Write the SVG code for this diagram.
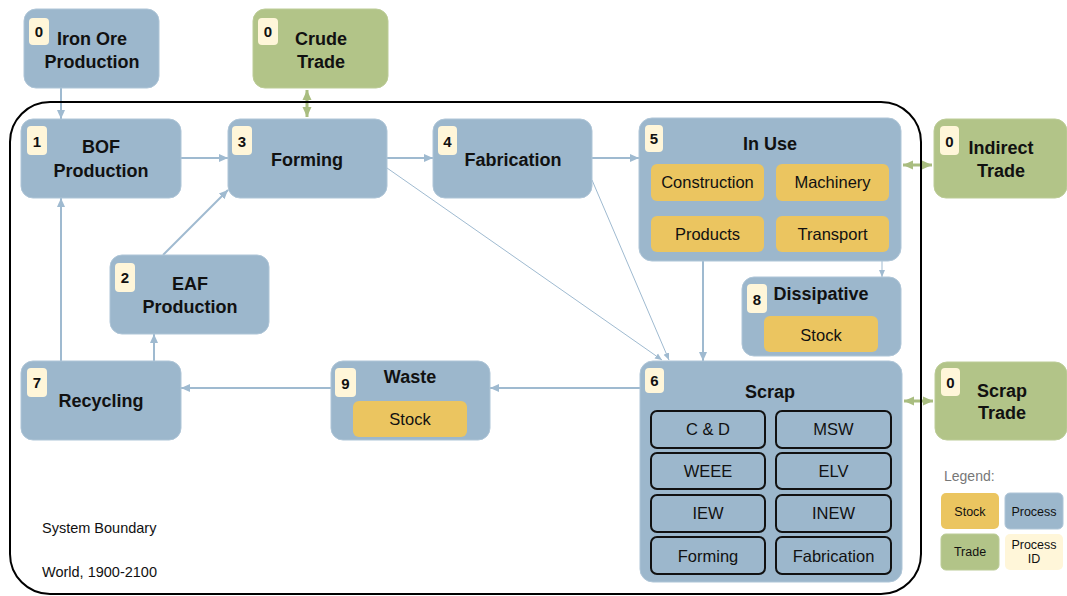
<svg xmlns="http://www.w3.org/2000/svg" width="1067" height="596" viewBox="0 0 1067 596">
  <style>
    text { font-family: "Liberation Sans", Arial, sans-serif; fill: #111; text-anchor: middle; }
    .proc { fill: #9cb7cc; stroke: #aec5d7; stroke-width: 1; }
    .trade { fill: #b2c488; stroke: #bccc97; stroke-width: 1; }
    .stock { fill: #ebc560; }
    .badge { fill: #fff6d9; }
    .sub { fill: none; stroke: #111; stroke-width: 2; }
    .title { font-size: 18px; font-weight: bold; }
    .id { font-size: 15px; font-weight: bold; }
    .item { font-size: 16.5px; }
    .leg { font-size: 12.5px; }
    .note { font-size: 14.5px; text-anchor: start; }
    .flow { stroke: #9fbad0; stroke-width: 2; fill: none; }
    .thin { stroke: #9fbad0; stroke-width: 1; fill: none; }
    .tflow { stroke: #a9bd80; stroke-width: 3; fill: none; }
  </style>
  <defs>
    <marker id="arr" markerUnits="userSpaceOnUse" markerWidth="10" markerHeight="10" refX="9" refY="5" orient="auto">
      <path d="M0,1 L9,5 L0,9 z" fill="#9fbad0"/>
    </marker>
    <marker id="arrs" markerUnits="userSpaceOnUse" markerWidth="8" markerHeight="8" refX="7" refY="4" orient="auto">
      <path d="M0,1 L7,4 L0,7 z" fill="#9fbad0"/>
    </marker>
    <marker id="arrg" markerUnits="userSpaceOnUse" markerWidth="11" markerHeight="11" refX="10" refY="5.5" orient="auto-start-reverse">
      <path d="M0,1 L10,5.5 L0,10 z" fill="#a9bd80"/>
    </marker>
  </defs>

  <rect width="1067" height="596" fill="#fff"/>

  <!-- flows between processes -->
  <g id="connectors">
    <path class="flow" d="M61,88 L61,119" marker-end="url(#arr)"/>
    <path class="tflow" d="M307,90 L307,117" marker-start="url(#arrg)" marker-end="url(#arrg)"/>
    <path class="flow" d="M181,158 L228,158" marker-end="url(#arr)"/>
    <path class="flow" d="M163,255 L228,190" marker-end="url(#arr)"/>
    <path class="flow" d="M387,158 L433,158" marker-end="url(#arr)"/>
    <path class="flow" d="M592,158 L639,158" marker-end="url(#arr)"/>
    <path class="thin" d="M387,168 L662,360" marker-end="url(#arrs)"/>
    <path class="thin" d="M592,180 L669,360" marker-end="url(#arrs)"/>
    <path class="flow" d="M703,261 L703,361" marker-end="url(#arr)"/>
    <path class="thin" d="M882,261 L882,277" marker-end="url(#arrs)"/>
    <path class="flow" d="M61,361 L61,198" marker-end="url(#arr)"/>
    <path class="flow" d="M154,361 L154,334" marker-end="url(#arr)"/>
    <path class="flow" d="M640,388 L490,388" marker-end="url(#arr)"/>
    <path class="flow" d="M331,388 L181,388" marker-end="url(#arr)"/>
    <path class="tflow" d="M903,165 L932,165" marker-start="url(#arrg)" marker-end="url(#arrg)"/>
    <path class="tflow" d="M904,401 L933,401" marker-start="url(#arrg)" marker-end="url(#arrg)"/>
  </g>

  <!-- system boundary -->
  <g id="boundary">
    <rect x="10" y="102" width="911" height="492" rx="40" fill="none" stroke="#000" stroke-width="2"/>
    <text class="note" x="42" y="533">System Boundary</text>
    <text class="note" x="42" y="577">World, 1900-2100</text>
  </g>

  <g id="iron-ore">
    <rect class="proc" x="24" y="9" width="135" height="79" rx="12"/>
    <rect class="badge" x="29" y="18" width="20" height="27" rx="4"/>
    <text class="id" x="39" y="37">0</text>
    <text class="title" x="92" y="45">Iron Ore</text>
    <text class="title" x="92" y="68">Production</text>
  </g>

  <g id="crude-trade">
    <rect class="trade" x="253" y="9" width="135" height="79" rx="12"/>
    <rect class="badge" x="258" y="18" width="20" height="27" rx="4"/>
    <text class="id" x="268" y="37">0</text>
    <text class="title" x="321" y="45">Crude</text>
    <text class="title" x="321" y="68">Trade</text>
  </g>

  <g id="bof">
    <rect class="proc" x="21" y="119" width="160" height="79" rx="12"/>
    <rect class="badge" x="27" y="126" width="20" height="29" rx="4"/>
    <text class="id" x="37" y="147">1</text>
    <text class="title" x="101" y="153">BOF</text>
    <text class="title" x="101" y="177">Production</text>
  </g>

  <g id="forming">
    <rect class="proc" x="228" y="119" width="159" height="79" rx="12"/>
    <rect class="badge" x="232" y="126" width="20" height="29" rx="4"/>
    <text class="id" x="242" y="147">3</text>
    <text class="title" x="307" y="166">Forming</text>
  </g>

  <g id="fabrication">
    <rect class="proc" x="433" y="119" width="159" height="79" rx="12"/>
    <rect class="badge" x="438" y="126" width="19" height="29" rx="4"/>
    <text class="id" x="447.5" y="147">4</text>
    <text class="title" x="513" y="166">Fabrication</text>
  </g>

  <g id="in-use">
    <rect class="proc" x="639" y="118" width="262" height="143" rx="13"/>
    <rect class="badge" x="645" y="125" width="18" height="27" rx="4"/>
    <text class="id" x="654" y="144">5</text>
    <text class="title" x="770" y="150">In Use</text>
    <rect class="stock" x="651" y="164" width="113" height="37" rx="6"/>
    <rect class="stock" x="776" y="164" width="113" height="37" rx="6"/>
    <rect class="stock" x="651" y="216" width="113" height="36" rx="6"/>
    <rect class="stock" x="776" y="216" width="113" height="36" rx="6"/>
    <text class="item" x="707.5" y="188">Construction</text>
    <text class="item" x="832.5" y="188">Machinery</text>
    <text class="item" x="707.5" y="240">Products</text>
    <text class="item" x="832.5" y="240">Transport</text>
  </g>

  <g id="indirect-trade">
    <rect class="trade" x="934" y="119" width="133" height="79" rx="12"/>
    <rect class="badge" x="940" y="126" width="19" height="29" rx="4"/>
    <text class="id" x="949.5" y="147">0</text>
    <text class="title" x="1001" y="154">Indirect</text>
    <text class="title" x="1001" y="177">Trade</text>
  </g>

  <g id="dissipative">
    <rect class="proc" x="742" y="277" width="159" height="79" rx="12"/>
    <rect class="badge" x="747" y="284" width="20" height="29" rx="4"/>
    <text class="id" x="757" y="305">8</text>
    <text class="title" x="821" y="300">Dissipative</text>
    <rect class="stock" x="764" y="316" width="114" height="36" rx="6"/>
    <text class="item" x="821" y="341">Stock</text>
  </g>

  <g id="scrap">
    <rect class="proc" x="640" y="361" width="262" height="221" rx="13"/>
    <rect class="badge" x="645" y="368" width="19" height="25" rx="4"/>
    <text class="id" x="654.5" y="386">6</text>
    <text class="title" x="770" y="398">Scrap</text>
    <rect class="sub" x="651" y="411" width="114" height="37" rx="6"/>
    <rect class="sub" x="776" y="411" width="115" height="37" rx="6"/>
    <rect class="sub" x="651" y="453" width="114" height="36" rx="6"/>
    <rect class="sub" x="776" y="453" width="115" height="36" rx="6"/>
    <rect class="sub" x="651" y="495" width="114" height="37" rx="6"/>
    <rect class="sub" x="776" y="495" width="115" height="37" rx="6"/>
    <rect class="sub" x="651" y="537" width="114" height="37" rx="6"/>
    <rect class="sub" x="776" y="537" width="115" height="37" rx="6"/>
    <text class="item" x="708" y="435">C &amp; D</text>
    <text class="item" x="833.5" y="435">MSW</text>
    <text class="item" x="708" y="477">WEEE</text>
    <text class="item" x="833.5" y="477">ELV</text>
    <text class="item" x="708" y="519">IEW</text>
    <text class="item" x="833.5" y="519">INEW</text>
    <text class="item" x="708" y="562">Forming</text>
    <text class="item" x="833.5" y="562">Fabrication</text>
  </g>

  <g id="scrap-trade">
    <rect class="trade" x="935" y="362" width="132" height="78" rx="12"/>
    <rect class="badge" x="941" y="368" width="19" height="28" rx="4"/>
    <text class="id" x="950.5" y="388">0</text>
    <text class="title" x="1002" y="397">Scrap</text>
    <text class="title" x="1002" y="419">Trade</text>
  </g>

  <g id="waste">
    <rect class="proc" x="331" y="361" width="159" height="79" rx="12"/>
    <rect class="badge" x="335" y="368" width="21" height="29" rx="4"/>
    <text class="id" x="345.5" y="389">9</text>
    <text class="title" x="410" y="383">Waste</text>
    <rect class="stock" x="353" y="401" width="114" height="36" rx="6"/>
    <text class="item" x="410" y="425">Stock</text>
  </g>

  <g id="recycling">
    <rect class="proc" x="21" y="361" width="160" height="79" rx="12"/>
    <rect class="badge" x="27" y="368" width="20" height="29" rx="4"/>
    <text class="id" x="37" y="388">7</text>
    <text class="title" x="101" y="407">Recycling</text>
  </g>

  <g id="eaf">
    <rect class="proc" x="110" y="255" width="159" height="79" rx="12"/>
    <rect class="badge" x="115" y="263" width="20" height="29" rx="4"/>
    <text class="id" x="125" y="283">2</text>
    <text class="title" x="190" y="290">EAF</text>
    <text class="title" x="190" y="313">Production</text>
  </g>

  <g id="legend">
    <text x="944" y="481" style="font-size:14px;fill:#777;text-anchor:start">Legend:</text>
    <rect class="stock" x="941" y="493" width="58" height="36" rx="5"/>
    <rect class="proc" x="1005" y="493" width="58" height="36" rx="5"/>
    <rect class="trade" x="941" y="534" width="58" height="36" rx="5"/>
    <rect class="badge" x="1005" y="534" width="58" height="36" rx="5"/>
    <text class="leg" x="970" y="516">Stock</text>
    <text class="leg" x="1034" y="516">Process</text>
    <text class="leg" x="970" y="556">Trade</text>
    <text class="leg" x="1034" y="549">Process</text>
    <text class="leg" x="1034" y="563">ID</text>
  </g>
</svg>
